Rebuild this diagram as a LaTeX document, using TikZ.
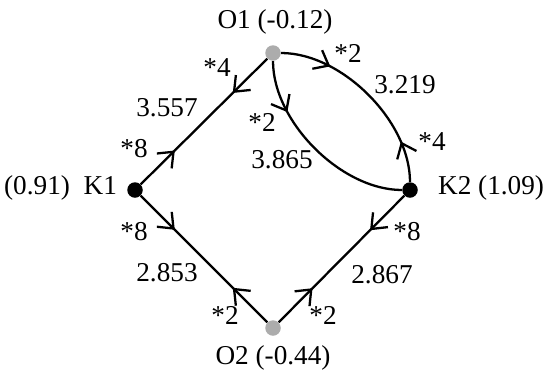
\documentclass[tikz,border=0pt]{standalone}
\usepackage{fontspec}
\setmainfont{Liberation Serif}
\usetikzlibrary{arrows.meta, decorations.markings}

\begin{document}
\begin{tikzpicture}[
  kdot/.style={circle, fill=black, inner sep=0pt, minimum size=0.31cm},
  odot/.style={circle, fill=gray!65, inner sep=0pt, minimum size=0.31cm},
  lbl/.style={font=\fontsize{15.5}{18}\selectfont, inner sep=1pt},
  link/.style={line width=1.3pt},
  twoway/.style 2 args={postaction={decorate}, decoration={markings,
    mark=at position #1 with {\arrow{Straight Barb[length=2.6mm, width=4.2mm]}},
    mark=at position #2 with {\arrowreversed{Straight Barb[length=2.6mm, width=4.2mm]}}}},
  oneway/.style={postaction={decorate}, decoration={markings,
    mark=at position #1 with {\arrow{Straight Barb[length=2.6mm, width=4.2mm]}}}},
]
\useasboundingbox (0, 0) rectangle (10.86, -7.44);

% ============================================================
% NODES
% ============================================================
\node[odot] (O1) at (5.46, -1.06) {};
\node[kdot] (K1) at (2.70, -3.80) {};
\node[kdot] (K2) at (8.20, -3.80) {};
\node[odot] (O2) at (5.46, -6.56) {};

\node[lbl] (O1lbl) at (5.50, -0.44) {O1 (-0.12)};
\node[lbl, anchor=east] (K1lbl) at (2.38, -3.76) {(0.91)\hspace{0.5em}K1};
\node[lbl, anchor=west] (K2lbl) at (8.72, -3.76) {K2 (1.09)};
\node[lbl] (O2lbl) at (5.46, -7.16) {O2 (-0.44)};

% ============================================================
% LINKS
% ============================================================
\draw[link, twoway={0.27}{0.73}] (K1) -- (O1);
\draw[link, twoway={0.27}{0.73}] (K1) -- (O2);
\draw[link, twoway={0.27}{0.73}] (O2) -- (K2);
\draw[link, twoway={0.26}{0.79}] (O1) to[out=0, in=90, looseness=0.85] (K2);
\draw[link, oneway=0.27] (O1) to[out=-90, in=180, looseness=0.85] (K2);

% ============================================================
% LINK LABELS
% ============================================================
\node[lbl] (l1) at (4.34, -1.36) {*4};
\node[lbl] (l2) at (3.34, -2.16) {3.557};
\node[lbl] (l3) at (2.68, -2.98) {*8};
\node[lbl] (l4) at (2.68, -4.64) {*8};
\node[lbl] (l5) at (3.34, -5.46) {2.853};
\node[lbl] (l6) at (4.50, -6.30) {*2};
\node[lbl] (l7) at (6.46, -6.30) {*2};
\node[lbl] (l8) at (7.64, -5.50) {2.867};
\node[lbl] (l9) at (8.14, -4.64) {*8};
\node[lbl] (l10) at (8.64, -2.84) {*4};
\node[lbl] (l11) at (8.10, -1.70) {3.219};
\node[lbl] (l12) at (6.96, -1.06) {*2};
\node[lbl] (l13) at (5.24, -2.44) {*2};
\node[lbl] (l14) at (5.64, -3.20) {3.865};

\end{tikzpicture}
\end{document}
